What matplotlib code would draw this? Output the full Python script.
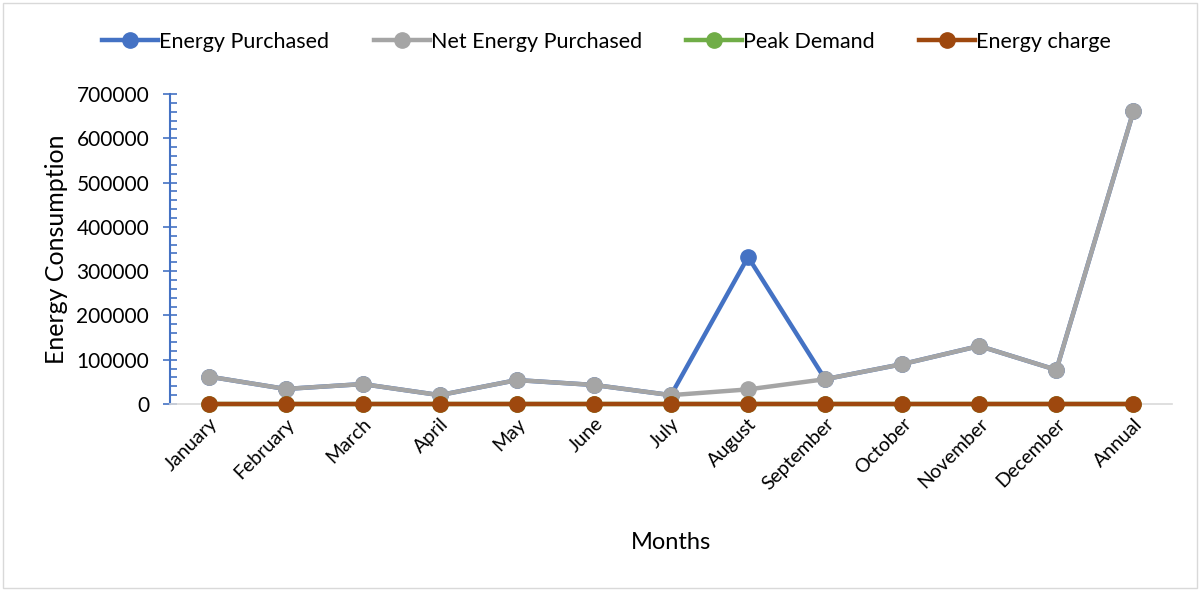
import matplotlib
matplotlib.use("Agg")
import matplotlib.pyplot as plt
from matplotlib.ticker import MultipleLocator
from matplotlib.patches import Rectangle

months = ["January", "February", "March", "April", "May", "June", "July",
          "August", "September", "October", "November", "December", "Annual"]
energy_purchased = [62000, 34000, 45000, 20000, 54000, 43000, 20000,
                    332000, 56000, 90000, 131000, 77000, 661000]
net_energy_purchased = [62000, 34000, 45000, 20000, 54000, 43000, 20000,
                        33000, 56000, 90000, 131000, 77000, 661000]
peak_demand = [300, 300, 300, 300, 300, 300, 300, 300, 300, 300, 300, 300, 300]
energy_charge = [50, 50, 50, 50, 50, 50, 50, 50, 50, 50, 50, 50, 50]

plt.rcParams['font.family'] = ['Lato', 'DejaVu Sans']

fig = plt.figure(figsize=(12.01, 5.90), dpi=100)
ax = fig.add_axes([170/1201, 1 - 404/590, (1172 - 170)/1201, (404 - 94)/590])

x = list(range(len(months)))
lw = 3.2
ms = 11
ax.plot(x, energy_purchased, color="#4472C4", lw=lw, marker="o", ms=ms, label="Energy Purchased", zorder=3)
ax.plot(x, net_energy_purchased, color="#A5A5A5", lw=lw, marker="o", ms=ms, label="Net Energy Purchased", zorder=4)
ax.plot(x, peak_demand, color="#70AD47", lw=lw, marker="o", ms=ms, label="Peak Demand", zorder=5)
ax.plot(x, energy_charge, color="#9E480E", lw=lw, marker="o", ms=ms, label="Energy charge", zorder=6)

ax.set_xlim(-0.5, 12.5)
ax.set_ylim(0, 700000)
ax.yaxis.set_major_locator(MultipleLocator(100000))
ax.yaxis.set_minor_locator(MultipleLocator(20000))
ax.set_yticks(range(0, 700001, 100000))
ax.set_yticklabels([str(v) for v in range(0, 700001, 100000)], fontsize=15)
ax.tick_params(axis='y', which='major', direction='inout', length=10, width=1.2, color="#4472C4", pad=10)
ax.tick_params(axis='y', which='minor', direction='in', length=5, width=1.2, color="#4472C4")
ax.set_xticks(x)
ax.set_xticklabels(months, rotation=45, ha='right', rotation_mode='anchor', fontsize=14)
ax.tick_params(axis='x', length=0, pad=8)

for s in ['top', 'right']:
    ax.spines[s].set_visible(False)
ax.spines['left'].set_color("#4472C4")
ax.spines['left'].set_linewidth(1.5)
ax.spines['bottom'].set_color("#D9D9D9")
ax.spines['bottom'].set_linewidth(1.2)
for c in ax.lines:
    c.set_clip_on(False)

ax.set_ylabel("Energy Consumption", fontsize=18, labelpad=6)
ax.set_xlabel("Months", fontsize=17, labelpad=28)

leg = ax.legend(loc='center', bbox_to_anchor=(0.505, 1 - 42/590), bbox_transform=fig.transFigure,
                ncol=4, frameon=False, fontsize=15.5, handlelength=2.6, handletextpad=0.05,
                columnspacing=2.05)

fig.patches.append(Rectangle((3/1201, 2/590), 1194/1201, 585/590, transform=fig.transFigure,
                             fill=False, edgecolor="#D9D9D9", lw=1))

fig.savefig("out.png", dpi=100)
